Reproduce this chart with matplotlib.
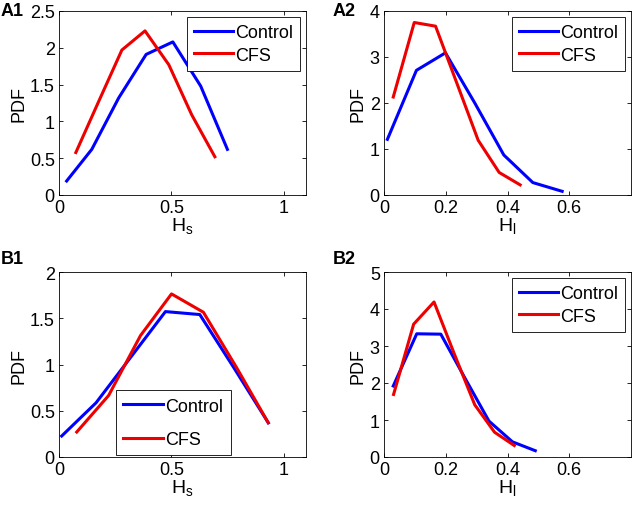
import matplotlib
matplotlib.use("Agg")
import matplotlib.pyplot as plt

plt.rcParams['font.family'] = ['Liberation Sans', 'DejaVu Sans']
plt.rcParams['mathtext.fontset'] = 'custom'
plt.rcParams['mathtext.rm'] = 'Liberation Sans'
plt.rcParams['mathtext.it'] = 'Liberation Sans'

# A1: H_s, dataset A
a1_ctrl_x = [0.034, 0.146, 0.266, 0.388, 0.507, 0.631, 0.75]
a1_ctrl_y = [0.19, 0.62, 1.32, 1.91, 2.08, 1.48, 0.62]
a1_cfs_x = [0.075, 0.178, 0.28, 0.383, 0.489, 0.591, 0.694]
a1_cfs_y = [0.577, 1.28, 1.97, 2.23, 1.77, 1.09, 0.52]

# A2: H_l, dataset A
a2_ctrl_x = [0.011, 0.105, 0.199, 0.294, 0.388, 0.482, 0.577]
a2_ctrl_y = [1.21, 2.71, 3.09, 2.0, 0.87, 0.27, 0.08]
a2_cfs_x = [0.030, 0.098, 0.167, 0.236, 0.305, 0.373, 0.441]
a2_cfs_y = [2.13, 3.75, 3.67, 2.43, 1.19, 0.49, 0.22]

# B1: H_s, dataset B
b1_ctrl_x = [0.012, 0.165, 0.32, 0.474, 0.627, 0.78, 0.932]
b1_ctrl_y = [0.227, 0.586, 1.08, 1.572, 1.54, 0.96, 0.37]
b1_cfs_x = [0.079, 0.221, 0.363, 0.501, 0.643, 0.79, 0.932]
b1_cfs_y = [0.27, 0.665, 1.313, 1.763, 1.565, 0.97, 0.37]

# B2: H_l, dataset B
b2_ctrl_x = [0.030, 0.106, 0.184, 0.261, 0.340, 0.416, 0.49]
b2_ctrl_y = [1.92, 3.33, 3.32, 2.15, 0.97, 0.41, 0.17]
b2_cfs_x = [0.031, 0.096, 0.162, 0.227, 0.294, 0.358, 0.422]
b2_cfs_y = [1.69, 3.59, 4.19, 2.8, 1.41, 0.67, 0.31]

fig = plt.figure(figsize=(6.33, 5.10), dpi=100)
W, H = 633.0, 510.0


def make_ax(l, r, t, b):
    return fig.add_axes([l / W, 1 - b / H, (r - l) / W, (b - t) / H])


panels = [
    ("A1", make_ax(59, 306, 12, 196), a1_ctrl_x, a1_ctrl_y, a1_cfs_x, a1_cfs_y,
     (0, 1.1), [0, 0.5, 1], ["0", "0.5", "1"], (0, 2.5), [0, 0.5, 1, 1.5, 2, 2.5],
     ["0", "0.5", "1", "1.5", "2", "2.5"], "H$_\\mathrm{s}$", (1, 12)),
    ("A2", make_ax(384, 631, 12, 196), a2_ctrl_x, a2_ctrl_y, a2_cfs_x, a2_cfs_y,
     (0, 0.8), [0, 0.2, 0.4, 0.6], ["0", "0.2", "0.4", "0.6"], (0, 4), [0, 1, 2, 3, 4],
     ["0", "1", "2", "3", "4"], "H$_\\mathrm{l}$", (333, 12)),
    ("B1", make_ax(59, 306, 273, 458), b1_ctrl_x, b1_ctrl_y, b1_cfs_x, b1_cfs_y,
     (0, 1.1), [0, 0.5, 1], ["0", "0.5", "1"], (0, 2), [0, 0.5, 1, 1.5, 2],
     ["0", "0.5", "1", "1.5", "2"], "H$_\\mathrm{s}$", (1, 260)),
    ("B2", make_ax(384, 631, 273, 458), b2_ctrl_x, b2_ctrl_y, b2_cfs_x, b2_cfs_y,
     (0, 0.8), [0, 0.2, 0.4, 0.6], ["0", "0.2", "0.4", "0.6"], (0, 5), [0, 1, 2, 3, 4, 5],
     ["0", "1", "2", "3", "4", "5"], "H$_\\mathrm{l}$", (333, 260)),
]

for name, ax, cx, cy, fx, fy, xl, xt, xtl, yl, yt, ytl, xlab, pos in panels:
    ax.plot(cx, cy, color="#0000ff", lw=2.2, label="Control")
    ax.plot(fx, fy, color="#ee0000", lw=2.2, label="CFS")
    ax.set_xlim(*xl)
    ax.set_ylim(*yl)
    ax.set_xticks(xt)
    ax.set_xticklabels(xtl)
    ax.set_yticks(yt)
    ax.set_yticklabels(ytl)
    ax.tick_params(direction="in", length=3, width=0.6, labelsize=13,
                   top=True, right=True, pad=3)
    for s in ax.spines.values():
        s.set_linewidth(0.6)
    ax.set_xlabel(xlab, fontsize=14, labelpad=-1)
    ax.set_ylabel("PDF", fontsize=13, labelpad=2)
    fig.text(pos[0] / W, 1 - pos[1] / H, name, fontsize=13, fontweight="bold",
             va="center", ha="left")
    if name == "B1":
        leg = ax.legend(loc="lower left", bbox_to_anchor=(0.23, 0.01, 0.5, 0.3),
                        fontsize=13, handlelength=2.2, labelspacing=0.9,
                        borderpad=0.4, handletextpad=0.15, fancybox=False,
                        framealpha=1, borderaxespad=0)
    else:
        leg = ax.legend(loc="upper right", fontsize=13, handlelength=2.15,
                        labelspacing=0.3, borderpad=0.4, handletextpad=0.12,
                        fancybox=False, framealpha=1, borderaxespad=0.33)
    leg.get_frame().set_edgecolor("black")
    leg.get_frame().set_linewidth(0.6)

fig.savefig("out.png", dpi=100)
